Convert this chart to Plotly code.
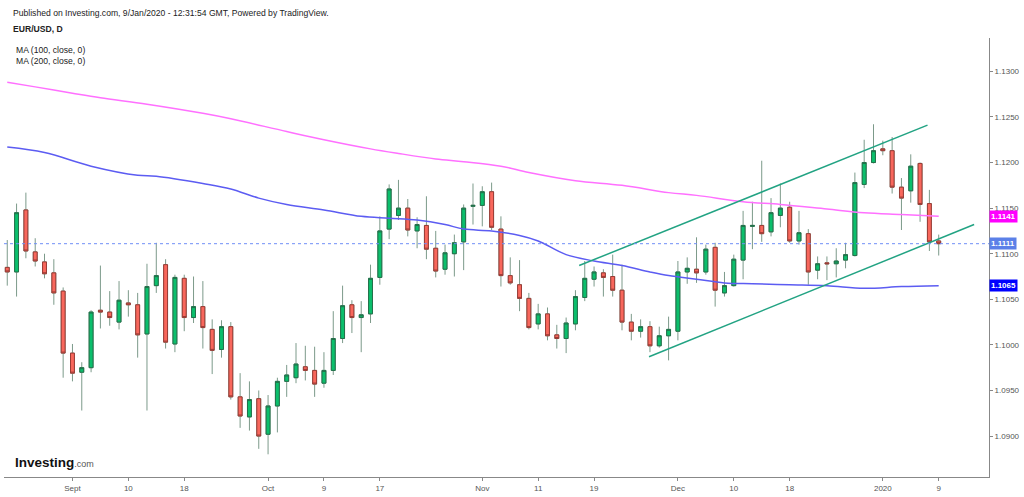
import pandas as pd
import plotly.graph_objects as go

# daily EUR/USD candles, 22 Aug 2019 - 9 Jan 2020 (weekdays)
dates = pd.bdate_range("2019-08-22", "2020-01-09")

opens = [1.1085, 1.1080, 1.1148, 1.1102, 1.1091, 1.1079, 1.1059, 1.0991, 1.0970, 1.0975,
         1.1038, 1.1036, 1.1025, 1.1046, 1.1044, 1.1012, 1.1065, 1.1088, 1.1001, 1.1073,
         1.1030, 1.1042, 1.1017, 1.0995, 1.1020, 1.0943, 1.0921, 1.0941, 1.0902, 1.0933,
         1.0960, 1.0964, 1.0976, 1.0972, 1.0958, 1.0972, 1.1007, 1.1044, 1.1030, 1.1034,
         1.1074, 1.1127, 1.1142, 1.1150, 1.1125, 1.1131, 1.1106, 1.1083, 1.1100, 1.1113,
         1.1152, 1.1153, 1.1168, 1.1127, 1.1076, 1.1066, 1.1051, 1.1023, 1.1034, 1.1011,
         1.1007, 1.1023, 1.1052, 1.1072, 1.1079, 1.1075, 1.1060, 1.1025, 1.1015, 1.1020,
         1.0999, 1.1010, 1.1015, 1.1080, 1.1083, 1.1080, 1.1107, 1.1057, 1.1065, 1.1093,
         1.1130, 1.1131, 1.1124, 1.1142, 1.1151, 1.1114, 1.1122, 1.1082, 1.1090, 1.1089,
         1.1093, 1.1098, 1.1176, 1.1200, 1.1215, 1.1213, 1.1173, 1.1169, 1.1199, 1.1155,
         1.1114]
highs = [1.1115, 1.1155, 1.1167, 1.1117, 1.1100, 1.1094, 1.1063, 1.1001, 1.0981, 1.1038,
         1.1087, 1.1059, 1.1070, 1.1060, 1.1057, 1.1089, 1.1112, 1.1094, 1.1077, 1.1077,
         1.1075, 1.1070, 1.1028, 1.1027, 1.1025, 1.0969, 1.0960, 1.0950, 1.0945, 1.0964,
         1.0978, 1.1002, 1.0999, 1.0998, 1.0992, 1.1037, 1.1065, 1.1049, 1.1048, 1.1088,
         1.1141, 1.1176, 1.1181, 1.1160, 1.1140, 1.1163, 1.1125, 1.1110, 1.1121, 1.1154,
         1.1177, 1.1174, 1.1178, 1.1141, 1.1096, 1.1093, 1.1057, 1.1045, 1.1041, 1.1022,
         1.1030, 1.1060, 1.1092, 1.1086, 1.1083, 1.1099, 1.1088, 1.1034, 1.1028, 1.1026,
         1.1020, 1.1031, 1.1092, 1.1096, 1.1118, 1.1110, 1.1112, 1.1080, 1.1099, 1.1147,
         1.1157, 1.1202, 1.1161, 1.1177, 1.1157, 1.1147, 1.1127, 1.1097, 1.1097, 1.1106,
         1.1112, 1.1189, 1.1225, 1.1242, 1.1224, 1.1228, 1.1183, 1.1209, 1.1200, 1.1170,
         1.1121]
lows = [1.1065, 1.1053, 1.1095, 1.1086, 1.1073, 1.1044, 1.0964, 1.0960, 1.0928, 1.0970,
        1.1018, 1.1021, 1.1017, 1.1031, 1.0986, 1.0928, 1.1057, 1.0996, 1.0992, 1.1015,
        1.1024, 1.0996, 1.0968, 1.0986, 1.0940, 1.0909, 1.0906, 1.0886, 1.0880, 1.0904,
        1.0943, 1.0958, 1.0961, 1.0943, 1.0953, 1.0967, 1.1002, 1.1013, 1.0992, 1.1024,
        1.1066, 1.1116, 1.1137, 1.1119, 1.1106, 1.1094, 1.1074, 1.1077, 1.1075, 1.1082,
        1.1132, 1.1130, 1.1126, 1.1064, 1.1066, 1.1037, 1.1017, 1.1017, 1.1005, 1.0996,
        1.0991, 1.1016, 1.1048, 1.1064, 1.1053, 1.1053, 1.1016, 1.1005, 1.1008, 1.0992,
        1.0997, 1.0983, 1.1005, 1.1067, 1.1068, 1.1077, 1.1042, 1.1053, 1.1064, 1.1072,
        1.1105, 1.1113, 1.1119, 1.1129, 1.1112, 1.1110, 1.1066, 1.1072, 1.1071, 1.1074,
        1.1084, 1.1097, 1.1172, 1.1199, 1.1208, 1.1166, 1.1126, 1.1156, 1.1135, 1.1103,
        1.1098]
closes = [1.1080, 1.1145, 1.1103, 1.1092, 1.1078, 1.1057, 1.0991, 1.0969, 1.0975, 1.1036,
          1.1036, 1.1030, 1.1049, 1.1044, 1.1011, 1.1064, 1.1076, 1.1003, 1.1074, 1.1030,
          1.1042, 1.1019, 1.0994, 1.1020, 1.0943, 1.0922, 1.0940, 1.0900, 1.0933, 1.0960,
          1.0967, 1.0979, 1.0972, 1.0957, 1.0972, 1.1007, 1.1043, 1.1030, 1.1033, 1.1073,
          1.1125, 1.1171, 1.1150, 1.1126, 1.1132, 1.1105, 1.1081, 1.1101, 1.1112, 1.1150,
          1.1153, 1.1168, 1.1129, 1.1076, 1.1068, 1.1051, 1.1019, 1.1034, 1.1010, 1.1007,
          1.1024, 1.1053, 1.1073, 1.1080, 1.1074, 1.1060, 1.1025, 1.1015, 1.1020, 1.0999,
          1.1010, 1.1017, 1.1080, 1.1084, 1.1079, 1.1105, 1.1060, 1.1065, 1.1094, 1.1131,
          1.1131, 1.1122, 1.1145, 1.1150, 1.1114, 1.1123, 1.1080, 1.1089, 1.1089, 1.1092,
          1.1099, 1.1178, 1.1200, 1.1213, 1.1213, 1.1173, 1.1161, 1.1196, 1.1154, 1.1113,
          1.1111]

# moving averages read at a few candles (index into dates)
ma100_idx = [0, 4, 9, 14, 16, 21, 24, 27, 30, 34, 38, 41, 44, 47, 49, 52, 55, 57, 60, 63,
             66, 69, 71, 74, 77, 80, 84, 88, 92, 96, 100]
ma100_val = [1.1217, 1.1211, 1.1196, 1.1186, 1.1185, 1.1177, 1.1171, 1.1161, 1.1154, 1.1148,
             1.1141, 1.1139, 1.1137, 1.1132, 1.1127, 1.1125, 1.1120, 1.1114, 1.1099, 1.1092,
             1.1087, 1.1080, 1.1076, 1.1072, 1.1068, 1.1067, 1.1066, 1.1065, 1.1062, 1.1064,
             1.1065]
ma200_idx = [0, 3, 7, 10, 15, 21, 24, 30, 34, 39, 42, 46, 49, 53, 56, 61, 66, 71, 74, 79,
             83, 88, 92, 96, 100]
ma200_val = [1.1288, 1.1283, 1.1276, 1.1271, 1.1264, 1.1254, 1.1248, 1.1234, 1.1225, 1.1215,
             1.1210, 1.1204, 1.1201, 1.1196, 1.1189, 1.1180, 1.1175, 1.1167, 1.1164, 1.1157,
             1.1154, 1.1149, 1.1145, 1.1143, 1.1141]

# hand drawn channel
upper_x = ["2019-11-15 09:36", "2020-01-07 19:12"]
upper_y = [1.1087, 1.1241]
lower_x = ["2019-11-26 21:36", "2020-01-14 19:12"]
lower_y = [1.0987, 1.1132]

tick_dates = ["2019-09-02", "2019-09-10", "2019-09-18", "2019-10-01", "2019-10-09", "2019-10-17",
              "2019-11-01", "2019-11-11", "2019-11-19", "2019-12-02", "2019-12-10", "2019-12-18",
              "2020-01-01", "2020-01-09"]
tick_text = ["Sept", "10", "18", "Oct", "9", "17", "Nov", "11", "19", "Dec", "10", "18", "2020", "9"]
price_ticks = [1.09, 1.095, 1.10, 1.105, 1.11, 1.115, 1.12, 1.125, 1.13]

green, green_edge = "#0bbf6c", "#23704a"
red, red_edge = "#f8675c", "#9a3b35"
wick = "#7c9a8a"

fig = go.Figure()

# wicks first (grey), then bodies on top
fig.add_trace(go.Candlestick(
    x=dates, open=opens, high=highs, low=lows, close=closes,
    increasing=dict(line=dict(color=wick, width=1), fillcolor=wick),
    decreasing=dict(line=dict(color=wick, width=1), fillcolor=wick),
    whiskerwidth=0, hoverinfo="skip", showlegend=False))
fig.add_trace(go.Candlestick(
    x=dates, open=opens, close=closes,
    high=[max(o, c) for o, c in zip(opens, closes)],
    low=[min(o, c) for o, c in zip(opens, closes)],
    increasing=dict(line=dict(color=green_edge, width=1), fillcolor=green),
    decreasing=dict(line=dict(color=red_edge, width=1), fillcolor=red),
    whiskerwidth=0, showlegend=False))

fig.add_trace(go.Scatter(x=[dates[i] for i in ma200_idx], y=ma200_val, mode="lines",
                         line=dict(color="#ff70ff", width=1.5, shape="spline"), showlegend=False))
fig.add_trace(go.Scatter(x=[dates[i] for i in ma100_idx], y=ma100_val, mode="lines",
                         line=dict(color="#5c5cf2", width=1.5, shape="spline"), showlegend=False))
fig.add_trace(go.Scatter(x=upper_x, y=upper_y, mode="lines",
                         line=dict(color="#22a383", width=1.5), showlegend=False))
fig.add_trace(go.Scatter(x=lower_x, y=lower_y, mode="lines",
                         line=dict(color="#22a383", width=1.5), showlegend=False))

# last price dotted line
fig.add_shape(type="line", xref="paper", x0=0, x1=1, y0=closes[-1], y1=closes[-1],
              line=dict(color="#6f8ef7", width=1, dash="dot"))

# price boxes on the axis
for val, bg in [(ma200_val[-1], "#ff00ff"), (closes[-1], "#5b80e8"), (ma100_val[-1], "#0000ff")]:
    fig.add_annotation(x=1, xref="paper", y=val, yref="y", xanchor="left", showarrow=False,
                       text="<b>%.4f</b>" % val, bgcolor=bg, borderpad=1,
                       font=dict(color="white", size=8, family="Liberation Sans"))

hdr = dict(xref="paper", yref="paper", xanchor="left", yanchor="middle", showarrow=False,
           font=dict(family="Liberation Sans", size=8.6, color="#222"))
fig.add_annotation(x=0.007, y=(481 - 12.7) / 443,
                   text="Published on Investing.com, 9/Jan/2020 - 12:31:54 GMT, Powered by TradingView.", **hdr)
fig.add_annotation(x=0.007, y=(481 - 29.3) / 443, text="<b>EUR/USD, D</b>", **hdr)
fig.add_annotation(x=0.01, y=(481 - 50) / 443, text="MA (100, close, 0)", **hdr)
fig.add_annotation(x=0.01, y=(481 - 61) / 443, text="MA (200, close, 0)", **hdr)
fig.add_annotation(x=0.009, y=(481 - 466) / 443, xref="paper", yref="paper", xanchor="left",
                   yanchor="middle", showarrow=False,
                   text="<b>Investing</b><span style='font-size:9px;color:#555'>.com</span>",
                   font=dict(family="Liberation Sans", size=13.5, color="#111"))

fig.update_layout(
    width=1024, height=497,
    margin=dict(l=4, r=35, t=38, b=16),
    paper_bgcolor="white", plot_bgcolor="white",
    boxgap=0.4,
    xaxis=dict(type="date", rangeslider=dict(visible=False),
               rangebreaks=[dict(bounds=["sat", "mon"])],
               range=["2019-08-21 15:36", "2020-01-16 09:36"],
               tickvals=tick_dates, ticktext=tick_text,
               showgrid=False, zeroline=False, showline=True, linecolor="#888", linewidth=1,
               ticks="outside", ticklen=3, tickcolor="#888",
               tickfont=dict(family="Liberation Sans", size=8, color="#555")),
    yaxis=dict(side="right", range=[1.08551, 1.13366], tickvals=price_ticks, tickformat=".4f",
               showgrid=False, zeroline=False, showline=True, linecolor="#888", linewidth=1,
               ticks="outside", ticklen=3, tickcolor="#888",
               tickfont=dict(family="Liberation Sans", size=8, color="#555")),
    hovermode=False,
)

# the page's default body margin would push the 1024x497 figure off the window
fig.write_html("out.html", config={"displayModeBar": False},
               post_script="document.body.style.margin='0px';")
